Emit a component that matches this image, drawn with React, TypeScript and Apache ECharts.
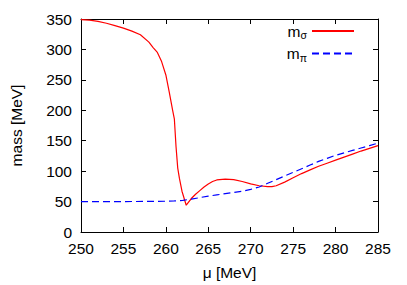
import React, { useEffect, useRef } from "react";
import * as echarts from "echarts";

const muSigma = [250, 251, 252, 253, 254, 255, 256, 257, 258, 258.5, 259, 259.5, 260, 260.4, 260.8, 261, 261.2, 261.4, 261.6, 261.9, 262.4, 263, 263.5, 264, 264.5, 265, 265.5, 266, 267, 268, 269, 270, 271, 272, 272.5, 273, 274, 275, 276, 277, 278, 279, 280, 281, 282, 283, 284, 285];
const mSigma = [349, 348, 346, 343, 339, 335, 330, 324, 312, 303, 295, 280, 258, 230, 200, 186, 140, 105, 88, 67, 44, 55, 62, 68, 74, 79, 83, 85.5, 87, 86, 83, 79, 76, 74.5, 74.5, 76, 82, 89, 96, 102, 108, 113, 118, 123, 128, 133, 137.5, 142];

const muPi = [250, 255, 260, 261, 262, 263, 264, 265, 266, 267, 268, 269, 270, 271, 272, 273, 274, 275, 276, 277, 278, 279, 280, 281, 282, 283, 284, 285];
const mPi = [50, 50, 50.5, 51, 52, 54, 56.5, 59, 61, 63, 65, 67, 70, 74, 80, 86, 92, 98, 104, 110, 116, 121, 126, 130, 134, 138, 142, 146];

const xTicks = { min: 250, max: 285, interval: 5 };
const yTicks = { min: 0, max: 350, interval: 50 };

const FONT = "Liberation Sans, Arial, sans-serif";
const FS = 15.5;

export default function App() {
  const ref = useRef<HTMLDivElement>(null);
  useEffect(() => {
    if (!ref.current) return;
    const chart = echarts.init(ref.current, undefined, { renderer: "svg" });
    const axisCommon = {
      axisLine: { onZero: false, lineStyle: { color: "#000", width: 1 } },
      axisTick: { inside: true, length: 5, lineStyle: { color: "#000", width: 1 } },
      splitLine: { show: false },
    };
    chart.setOption({
      animation: false,
      backgroundColor: "#fff",
      textStyle: { fontFamily: FONT },
      grid: { left: 77, right: 29, top: 19, bottom: 51, containLabel: false },
      legend: {
        orient: "vertical",
        right: 47,
        top: 18,
        align: "right",
        itemWidth: 42,
        itemHeight: 10,
        itemGap: 5,
        itemStyle: { opacity: 0 },
        data: ["sigma", "pi"],
        formatter: (name: string) => (name === "sigma" ? "{m|m}{s|σ}" : "{m|m}{s|π}"),
        textStyle: {
          fontFamily: FONT,
          color: "#000",
          rich: {
            m: { fontSize: FS, fontFamily: FONT, color: "#000" },
            s: { fontSize: 10.5, fontFamily: FONT, color: "#000", padding: [8, 0, 0, 0] },
          },
        },
      },
      xAxis: [
        {
          type: "value",
          position: "bottom",
          ...xTicks,
          ...axisCommon,
          axisLabel: { fontSize: FS, color: "#000", margin: 8, fontFamily: FONT },
          name: "μ [MeV]",
          nameLocation: "middle",
          nameGap: 32,
          nameTextStyle: { fontSize: FS, color: "#000", fontFamily: FONT },
        },
        {
          type: "value",
          position: "top",
          ...xTicks,
          ...axisCommon,
          axisLabel: { show: false },
        },
      ],
      yAxis: [
        {
          type: "value",
          position: "left",
          ...yTicks,
          ...axisCommon,
          axisLabel: { fontSize: FS, color: "#000", margin: 9, fontFamily: FONT },
          name: "mass [MeV]",
          nameLocation: "middle",
          nameGap: 57,
          nameTextStyle: { fontSize: FS, color: "#000", fontFamily: FONT },
        },
        {
          type: "value",
          position: "right",
          ...yTicks,
          ...axisCommon,
          axisLabel: { show: false },
        },
      ],
      series: [
        {
          name: "sigma",
          type: "line",
          xAxisIndex: 0,
          yAxisIndex: 0,
          symbol: "none",
          showSymbol: false,
          lineStyle: { color: "#ff0000", width: 1.2 },
          itemStyle: { color: "#ff0000" },
          data: muSigma.map((m, i) => [m, mSigma[i]]),
        },
        {
          name: "pi",
          type: "line",
          xAxisIndex: 0,
          yAxisIndex: 0,
          symbol: "none",
          showSymbol: false,
          lineStyle: { color: "#0000ff", width: 1.2, type: [7, 4] },
          itemStyle: { color: "#0000ff" },
          data: muPi.map((m, i) => [m, mPi[i]]),
        },
      ],
    });
    return () => chart.dispose();
  }, []);
  return (
    <div
      ref={ref}
      style={{ position: "fixed", left: 0, top: 0, width: 407, height: 285 }}
    />
  );
}
